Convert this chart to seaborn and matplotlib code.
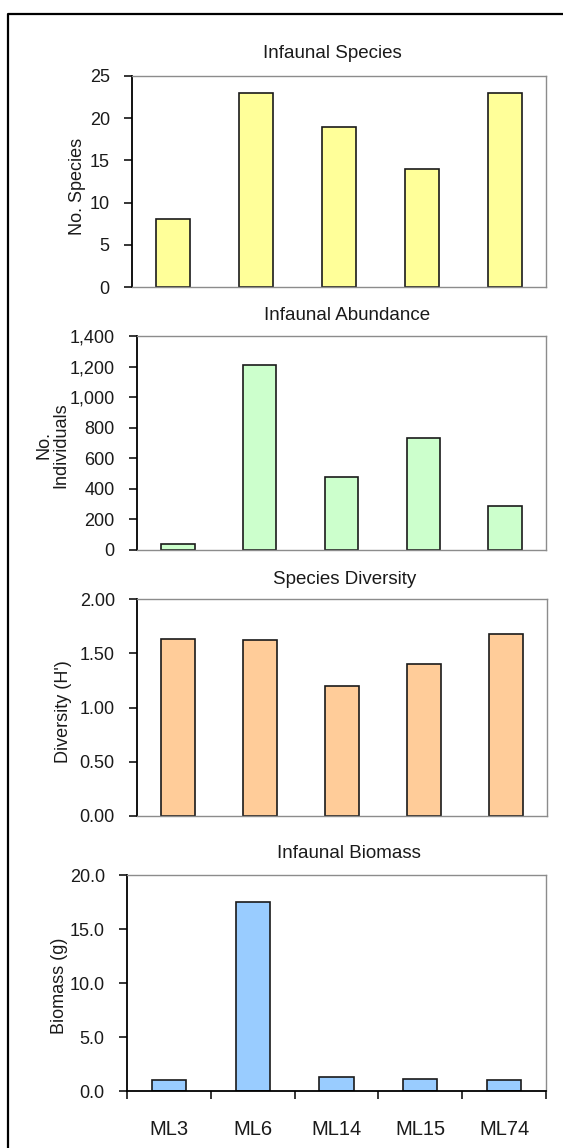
import matplotlib
matplotlib.use("Agg")
import matplotlib.pyplot as plt
import seaborn as sns
from matplotlib.ticker import FuncFormatter, MultipleLocator, FixedLocator, NullFormatter
from matplotlib.lines import Line2D

# ---- data ----
sites = ["ML3", "ML6", "ML14", "ML15", "ML74"]
species = [8, 23, 19, 14, 23]
abundance = [40, 1210, 480, 730, 290]
diversity = [1.63, 1.62, 1.20, 1.40, 1.68]
biomass = [1.0, 17.5, 1.3, 1.15, 1.0]

titles = ["Infaunal Species", "Infaunal Abundance", "Species Diversity", "Infaunal Biomass"]
ylabels = ["No. Species", "No.\nIndividuals", "Diversity (H')", "Biomass (g)"]
colors = ["#FFFF99", "#CCFFCC", "#FFCC99", "#99CCFF"]
ylims = [(0, 25), (0, 1400), (0, 2.0), (0, 20.0)]
ysteps = [5, 200, 0.5, 5.0]
fmts = [lambda v, p: f"{v:.0f}", lambda v, p: f"{v:,.0f}",
        lambda v, p: f"{v:.2f}", lambda v, p: f"{v:.1f}"]

sns.set_style("white")
plt.rcParams["font.family"] = ["Liberation Sans", "DejaVu Sans"]

W, H = 563, 1148
fig = plt.figure(figsize=(W / 100, H / 100), dpi=100)

# outer frame (left and top edges visible)
fig.add_artist(Line2D([8 / W, 8 / W, 1.0], [0.0, 1 - 14 / H, 1 - 14 / H],
                      transform=fig.transFigure, color="black", lw=1.6))

boxes = [(132, 76, 546, 287), (137, 336, 546, 550), (137, 599, 547, 816), (127, 875, 546, 1091)]
title_pos = [(332, 53), (347, 316), (345, 580), (349, 854)]
ylabel_pos = [(77, 186), (52, 445), (64, 712), (59, 986)]

datasets = [species, abundance, diversity, biomass]

for i in range(4):
    l, t, r, b = boxes[i]
    ax = fig.add_axes([l / W, 1 - b / H, (r - l) / W, (b - t) / H])
    sns.barplot(x=sites, y=datasets[i], ax=ax, color=colors[i], saturation=1,
                edgecolor="#1a1a1a", linewidth=1.2, width=0.41)
    ax.set_xlim(-0.5, 4.5)
    ax.set_ylim(*ylims[i])
    ax.yaxis.set_major_locator(MultipleLocator(ysteps[i]))
    ax.yaxis.set_major_formatter(FuncFormatter(fmts[i]))
    ax.tick_params(axis="y", direction="out", length=6, width=1.1, color="black",
                   labelsize=13, pad=10, left=True, labelcolor="#1a1a1a")
    for s in ["top", "right"]:
        ax.spines[s].set_color("#8c8c8c")
        ax.spines[s].set_linewidth(1.0)
    ax.spines["left"].set_color("black")
    ax.spines["left"].set_linewidth(1.3)
    if i < 3:
        ax.spines["bottom"].set_color("#8c8c8c")
        ax.spines["bottom"].set_linewidth(1.0)
        ax.tick_params(axis="x", bottom=False, labelbottom=False)
    else:
        ax.spines["bottom"].set_color("black")
        ax.spines["bottom"].set_linewidth(1.3)
        ax.xaxis.set_major_locator(FixedLocator([-0.5, 0.5, 1.5, 2.5, 3.5, 4.5]))
        ax.xaxis.set_major_formatter(NullFormatter())
        ax.xaxis.set_minor_locator(FixedLocator(list(range(len(sites)))))
        ax.xaxis.set_minor_formatter(FuncFormatter(lambda v, p: sites[int(round(v))]))
        ax.tick_params(axis="x", which="major", direction="out", length=6, width=1.1,
                       color="black", bottom=True)
        ax.tick_params(axis="x", which="minor", length=0, labelsize=14.5, pad=21,
                       bottom=True, labelbottom=True, labelcolor="#1a1a1a")
    ax.set_xlabel("")
    ax.set_ylabel(ylabels[i], fontsize=13, va="center", ha="center",
                  linespacing=1.0, color="#1a1a1a")
    lx, ly = ylabel_pos[i]
    ax.yaxis.set_label_coords((lx - l) / (r - l), (b - ly) / (b - t))
    tx, ty = title_pos[i]
    fig.text(tx / W, 1 - ty / H, titles[i], ha="center", va="center",
             fontsize=13.5, color="#1a1a1a")

fig.savefig("out.png", dpi=100)
